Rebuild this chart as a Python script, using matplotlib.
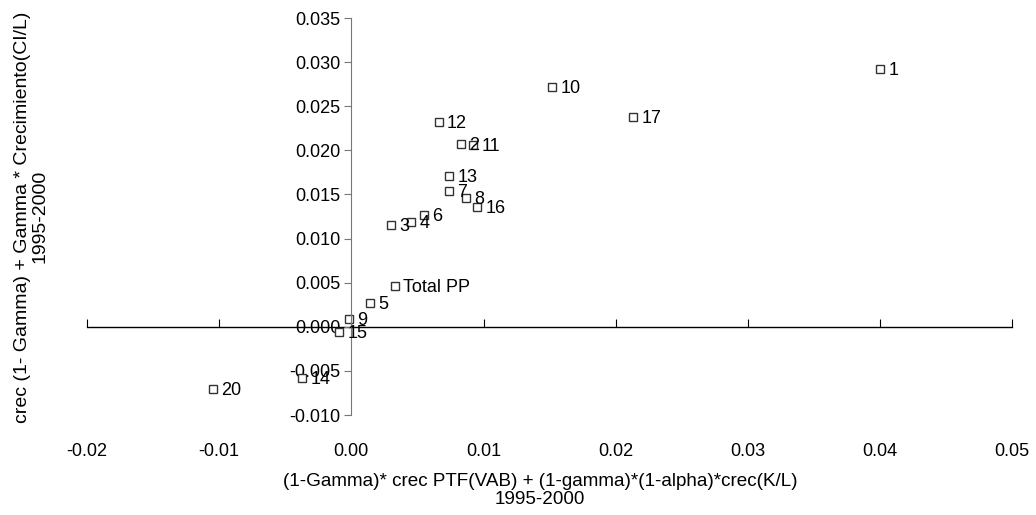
import matplotlib.pyplot as plt
import numpy as np

plt.rcParams['font.family'] = ['Liberation Sans', 'DejaVu Sans']

# Sector scatter: PTF contribution vs. labour productivity growth
labels = ['1', '10', '17', '12', '2', '11', '13', '7', '8', '16',
          '6', '4', '3', 'Total PP', '5', '9', '15', '14', '20']
x = [0.0400, 0.0152, 0.0213, 0.0066, 0.0083, 0.0092, 0.0074, 0.0074, 0.0087, 0.0095,
     0.0055, 0.0045, 0.0030, 0.0033, 0.0014, -0.0002, -0.0009, -0.0037, -0.0105]
y = [0.0292, 0.0272, 0.0238, 0.0232, 0.0207, 0.0206, 0.0171, 0.0154, 0.0146, 0.0136,
     0.0127, 0.0119, 0.0115, 0.00465, 0.0027, 0.0009, -0.0006, -0.0058, -0.0070]

xticks = np.arange(-0.02, 0.0501, 0.01)
yticks = np.arange(-0.010, 0.0351, 0.005)

fs = 13

fig = plt.figure(figsize=(10.36, 5.15), dpi=100)
ax = fig.add_axes([0.084, 0.194, 0.893, 0.771])

ax.plot(x, y, linestyle='none', marker='s', markersize=5.5,
        markerfacecolor='white', markeredgecolor='#333333', markeredgewidth=1)
for lab, xi, yi in zip(labels, x, y):
    ax.annotate(lab, (xi, yi), xytext=(6, -1), textcoords='offset points',
                va='center', ha='left', fontsize=fs)

ax.set_xlim(-0.02, 0.05)
ax.set_ylim(-0.010, 0.035)

# y axis crosses at x = 0
for s in ['top', 'right', 'bottom']:
    ax.spines[s].set_visible(False)
ax.spines['left'].set_position(('data', 0))
ax.spines['left'].set_color('#777777')
ax.set_yticks(yticks)
ax.set_yticklabels([f'{v:.3f}' for v in yticks])
ax.tick_params(axis='y', direction='out', length=5, color='#777777',
               labelsize=fs, pad=3)

# x tick labels sit under the plot area
ax.set_xticks(xticks)
ax.set_xticklabels([f'{v:.2f}' for v in xticks])
ax.tick_params(axis='x', length=0, labelsize=fs, pad=20)

# x axis line with upward ticks at y = 0
zero = (0 - ax.get_ylim()[0]) / (ax.get_ylim()[1] - ax.get_ylim()[0])
sec = ax.secondary_xaxis(zero)
sec.set_xticks(xticks)
sec.tick_params(axis='x', direction='in', length=6, color='black',
                labelbottom=False)
sec.spines['bottom'].set_color('black')
sec.spines['bottom'].set_linewidth(1)

fig.text(0.521, 0.048,
         '(1-Gamma)* crec PTF(VAB) + (1-gamma)*(1-alpha)*crec(K/L)\n1995-2000',
         fontsize=13.6, ha='center', va='center', linespacing=1.1)
fig.text(0.030, 0.579, 'crec (1- Gamma) + Gamma * Crecimiento(CI/L)\n1995-2000',
         fontsize=14, ha='center', va='center', rotation=90, linespacing=1.05)

fig.savefig('out.png', dpi=100)
